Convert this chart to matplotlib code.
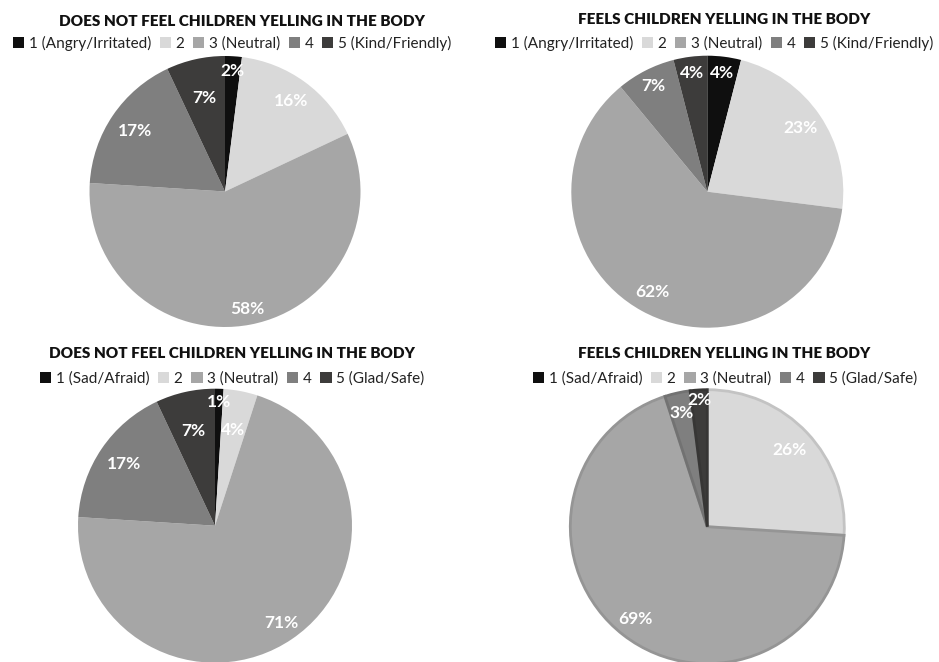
import matplotlib.pyplot as plt
from matplotlib.patches import Patch
import matplotlib.colors as mcolors
import numpy as np

W, H = 939, 662

# shared legend colours for the five ratings
colors = ['#0f0f0f', '#d9d9d9', '#a6a6a6', '#7f7f7f', '#3d3c3b']

title_no = 'DOES NOT FEEL CHILDREN YELLING IN THE BODY'
title_yes = 'FEELS CHILDREN YELLING IN THE BODY'

labels_mood = ['1 (Angry/Irritated)', '2', '3 (Neutral)', '4', '5 (Kind/Friendly)']
labels_feel = ['1 (Sad/Afraid)', '2', '3 (Neutral)', '4', '5 (Glad/Safe)']

mood_no = [2, 16, 58, 17, 7]
mood_yes = [4, 23, 62, 7, 4]
feel_no = [1, 4, 71, 17, 7]
feel_yes = [0, 26, 69, 3, 2]

# layout in pixels: pie centre, radius, title pos, legend pos, label radii
panels = [
	dict(vals=mood_no, title=title_no, legend=labels_mood, c=(225, 191.5), r=135.5,
		tpos=(242, 21), lpos=(232, 43), lr=[0.89, 0.83, 0.88, 0.80, 0.71], edge=False),
	dict(vals=mood_yes, title=title_yes, legend=labels_mood, c=(707.3, 191.7), r=136,
		tpos=(724, 20), lpos=(714, 43), lr=[0.88, 0.83, 0.84, 0.87, 0.88], edge=False),
	dict(vals=feel_no, title=title_no, legend=labels_feel, c=(215, 525.7), r=137,
		tpos=(232, 354), lpos=(232, 379), lr=[0.90, 0.71, 0.86, 0.80, 0.71], edge=False),
	dict(vals=feel_yes, title=title_yes, legend=labels_feel, c=(707.3, 526.7), r=137,
		tpos=(724, 354), lpos=(725, 379), lr=[0.9, 0.82, 0.85, 0.85, 0.93], edge=True),
]

font = 'Lato'

fig = plt.figure(figsize=(W / 100, H / 100), dpi=100)
fig.patch.set_facecolor('white')

def darker(c, f=0.9):
	rgb = mcolors.to_rgb(c)
	return tuple(v * f for v in rgb)

for p in panels:
	cx, cy = p['c']
	r = p['r']
	ax = fig.add_axes([(cx - r) / W, 1 - (cy + r) / H, 2 * r / W, 2 * r / H])
	wedges, _ = ax.pie(p['vals'], colors=colors, startangle=90, counterclock=False,
		radius=1, wedgeprops=dict(linewidth=2 if p['edge'] else 0))
	if p['edge']:
		for w, col in zip(wedges, colors):
			w.set_edgecolor(darker(col))
	ax.set_xlim(-1, 1)
	ax.set_ylim(-1, 1)
	ax.set_aspect('equal')

	for w, v, d in zip(wedges, p['vals'], p['lr']):
		if v == 0: continue
		ang = np.deg2rad((w.theta1 + w.theta2) / 2)
		ax.text(d * np.cos(ang), d * np.sin(ang), '%d%%' % v, ha='center', va='center',
			color='white', fontsize=12.5, fontweight='bold', family=font)

	fig.text(p['tpos'][0] / W, 1 - p['tpos'][1] / H, p['title'], ha='center', va='center',
		fontsize=11, fontweight='heavy', family=font, color='#111111')

	handles = [Patch(facecolor=col, edgecolor='none') for col in colors]
	fig.legend(handles, p['legend'], loc='center', bbox_to_anchor=(p['lpos'][0] / W, 1 - p['lpos'][1] / H),
		ncol=5, frameon=False, handlelength=0.75, handleheight=0.75, handletextpad=0.3,
		columnspacing=0.55, borderpad=0, prop=dict(family=font, size=11), labelcolor='#222222')

plt.savefig('out.png', dpi=100)
